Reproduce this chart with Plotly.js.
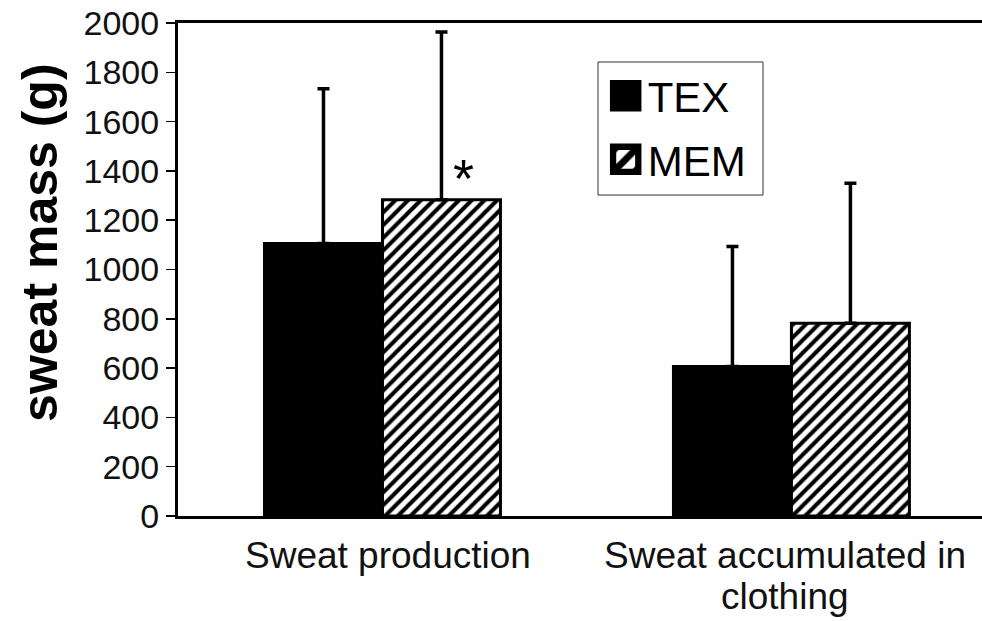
<!DOCTYPE html>
<html>
<head>
<meta charset="utf-8">
<script src="https://cdn.plot.ly/plotly-3.0.1.min.js"></script>
<style>html,body{margin:0;padding:0;background:#fff;}#chart{width:982px;height:621px;}</style>
</head>
<body>
<div id="chart"></div>
<script>
const categories = ["Sweat production", "Sweat accumulated in<br>clothing"];
const seriesNames = ["TEX", "MEM"];
const texValues = [1105, 606];
const texErrors = [628, 487];
const memValues = [1283, 782];
const memErrors = [680, 568];
const yTicks = [0, 200, 400, 600, 800, 1000, 1200, 1400, 1600, 1800, 2000];
const yTitle = "sweat mass (g)";
const sigLabel = "*";
const sigValue = 1370;

const FONT = "Liberation Sans, Arial, sans-serif";

const traces = [
  {
    type: "bar", name: seriesNames[0], x: categories, y: texValues, legendgroup: "a",
    marker: {color: "#000", line: {color: "#000", width: 3}},
    error_y: {type: "data", symmetric: false, array: texErrors, arrayminus: [0, 0], color: "#000", thickness: 3.5, width: 6}
  },
  {
    type: "bar", name: seriesNames[1], x: categories, y: memValues, legendgroup: "b",
    marker: {color: "#fff", line: {color: "#000", width: 3},
      pattern: {shape: "/", fgcolor: "#000", bgcolor: "#fff", fgopacity: 1, size: 9, solidity: 0.45, fillmode: "overlay"}},
    error_y: {type: "data", symmetric: false, array: memErrors, arrayminus: [0, 0], color: "#000", thickness: 3.5, width: 6}
  }
];

// category labels drawn line by line below the axis
const labelShifts = [6, -6];
const labelAnnotations = [];
categories.forEach(function (cat, i) {
  cat.split("<br>").forEach(function (line, j) {
    labelAnnotations.push({
      x: cat, xref: "x", xshift: labelShifts[i], y: 0, yref: "paper", yshift: -39.5 - 41 * j,
      text: line, showarrow: false, xanchor: "center", yanchor: "middle",
      font: {family: FONT, size: 37, color: "#111"}
    });
  });
});

const layout = {
  width: 982, height: 621,
  margin: {l: 178, r: 0, t: 23, b: 105, autoexpand: false},
  paper_bgcolor: "#fff", plot_bgcolor: "#fff",
  barmode: "group", bargap: 0.423, bargroupgap: 0,
  font: {family: FONT, color: "#000"},
  showlegend: true,
  legend: {
    x: 0.522, y: 0.921, xanchor: "left", yanchor: "top",
    borderwidth: 0, bgcolor: "rgba(0,0,0,0)",
    font: {family: FONT, size: 42, color: "#000"},
    itemwidth: 40, traceorder: "grouped", tracegroupgap: 6
  },
  shapes: [
    {type: "rect", xref: "paper", yref: "paper", x0: 0.5224, x1: 0.7276, y0: 0.651, y1: 0.9209,
     line: {color: "#333", width: 1}, fillcolor: "#fff", layer: "above"}
  ],
  xaxis: {
    type: "category", range: [-0.5, 1.466],
    showline: true, mirror: true, linecolor: "#000", linewidth: 3,
    ticks: "", showgrid: false, zeroline: false, showticklabels: false,
    automargin: false
  },
  yaxis: {
    range: [0, 2000], tickvals: yTicks, ticktext: yTicks.map(String),
    showline: true, linecolor: "#000", linewidth: 3,
    ticks: "outside", ticklen: 9, tickwidth: 1.5, tickcolor: "#000",
    showgrid: false, zeroline: false,
    tickfont: {family: FONT, size: 34, color: "#111"},
    automargin: false
  },
  annotations: [
    {x: -0.1716, xref: "paper", y: 0.554, yref: "paper", text: "<b>" + yTitle + "</b>", textangle: -90,
     showarrow: false, xanchor: "center", yanchor: "middle", font: {family: FONT, size: 50, color: "#000"}},
    {x: categories[0], xref: "x", xshift: 81, y: sigValue, yref: "y", text: sigLabel, showarrow: false,
     font: {family: FONT, size: 54, color: "#000"}}
  ].concat(labelAnnotations)
};

Plotly.newPlot("chart", traces, layout, {displayModeBar: false, staticPlot: true}).then(function () {
  document.querySelectorAll(".legend .legendpoints path").forEach(function (p) {
    const t = p.getAttribute("transform") || "";
    p.setAttribute("transform", t + " translate(3,0) scale(2.1)");
  });
});
</script>
</body>
</html>
